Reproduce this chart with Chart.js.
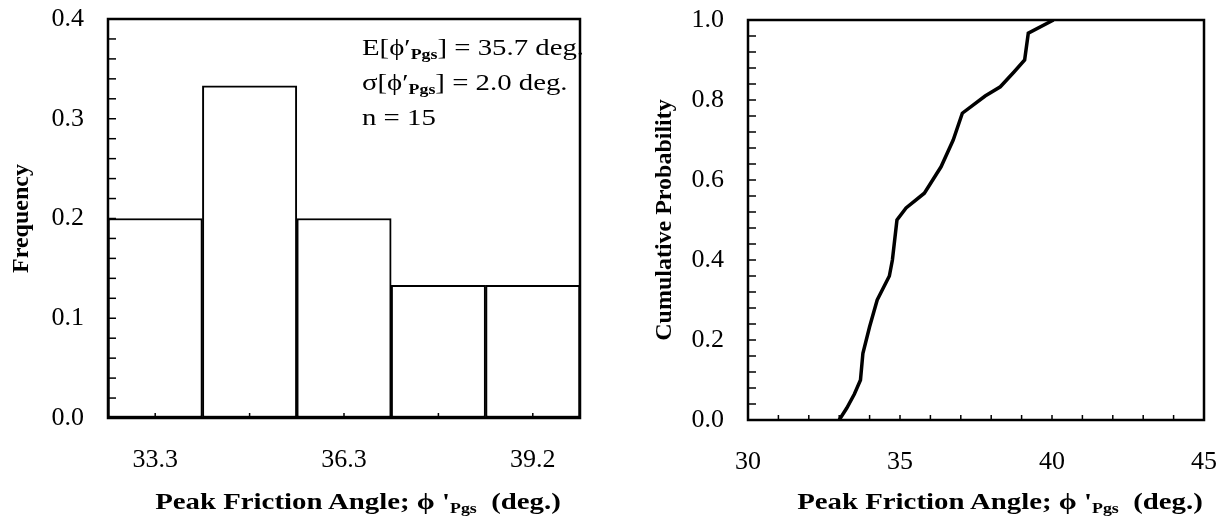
<!DOCTYPE html>
<html>
<head>
<meta charset="utf-8">
<script src="https://cdn.jsdelivr.net/npm/chart.js@4.4.1/dist/chart.umd.min.js"></script>
<style>
  body { margin: 0; background: #fff; }
  #page { position: relative; width: 1222px; height: 520px; overflow: hidden; font-family: "Liberation Serif", "Times New Roman", serif; color: #000; }
  .panel { position: absolute; top: 0; height: 520px; }
  #left-panel { left: 0; width: 600px; }
  #right-panel { left: 600px; width: 622px; }
  .x-title { position: absolute; top: 486px; font-weight: bold; font-size: 24px; line-height: 30px; white-space: nowrap; transform: translateX(-50%) scaleX(1.2); }
  .x-title sub, .stats sub { font-size: 62%; vertical-align: -0.3em; line-height: 0; }
  .stats { position: absolute; left: 362px; top: 30px; font-size: 24px; line-height: 35px; white-space: nowrap; transform: scaleX(1.2); transform-origin: left top; }
</style>
</head>
<body>
<div id="page">
  <div id="left-panel" class="panel">
    <canvas id="hist-chart" width="600" height="520"></canvas>
    <div class="stats">
      E[ϕ′<sub><b>Pgs</b></sub>] = 35.7 deg.<br>
      σ[ϕ′<sub><b>Pgs</b></sub>] = 2.0 deg.<br>
      n = 15
    </div>
    <div class="x-title" style="left: 358px;">Peak Friction Angle; ϕ '<sub>Pgs</sub>&nbsp;&nbsp;(deg.)</div>
  </div>
  <div id="right-panel" class="panel">
    <canvas id="cdf-chart" width="622" height="520"></canvas>
    <div class="x-title" style="left: 400px;">Peak Friction Angle; ϕ '<sub>Pgs</sub>&nbsp;&nbsp;(deg.)</div>
  </div>
</div>
<script>
// histogram bins (deg.) and relative frequency
const binCenters = [33.3, 34.8, 36.3, 37.7, 39.2];
const binLabels = ["33.3", "", "36.3", "", "39.2"];
const frequency = [0.2, 0.333, 0.2, 0.133, 0.133];

// cumulative probability curve
const cdfAngle = [33.0, 33.25, 33.5, 33.7, 33.78, 34.0, 34.25, 34.65, 34.75, 34.9, 35.2, 35.8, 36.35, 36.75, 37.05, 37.8, 38.3, 38.75, 39.1, 39.22, 40.05];
const cdfProb = [0.0, 0.03, 0.065, 0.1, 0.167, 0.233, 0.3, 0.36, 0.4, 0.5, 0.53, 0.567, 0.633, 0.7, 0.767, 0.81, 0.833, 0.87, 0.9, 0.967, 1.0];

const tickFont = { family: "'Liberation Serif', 'Times New Roman', serif", size: 26 };
const titleFont = { family: "'Liberation Serif', 'Times New Roman', serif", size: 24, weight: "bold" };

const isMultiple = (v, step) => Math.abs(v / step - Math.round(v / step)) < 1e-6;

// invisible outer ticks: they only push the labels away from the axis
const hiddenGrid = (len) => ({
  display: true,
  drawOnChartArea: false,
  drawTicks: true,
  tickLength: len,
  tickColor: "rgba(0,0,0,0)",
});

// box around the plot area + small inward tick marks
const frameTicks = {
  id: "frameTicks",
  afterDraw(chart, args, opts) {
    const { ctx, chartArea: a, scales } = chart;
    ctx.save();
    ctx.strokeStyle = "#000";
    ctx.lineWidth = 1.5;
    scales.x.ticks.forEach((t, i) => {
      const px = scales.x.getPixelForTick(i);
      ctx.beginPath();
      ctx.moveTo(px, a.bottom);
      ctx.lineTo(px, a.bottom - opts.xLen);
      ctx.stroke();
    });
    scales.y.ticks.forEach((t, i) => {
      const py = scales.y.getPixelForTick(i);
      ctx.beginPath();
      ctx.moveTo(a.left, py);
      ctx.lineTo(a.left + opts.yLen, py);
      ctx.stroke();
    });
    ctx.lineWidth = 2.5;
    ctx.strokeRect(a.left, a.top, a.right - a.left, a.bottom - a.top);
    ctx.restore();
  },
};

window.onload = function () {
  const histCtx = document.getElementById("hist-chart").getContext("2d");
  new Chart(histCtx, {
    type: "bar",
    data: {
      labels: binCenters,
      datasets: [
        {
          data: frequency,
          backgroundColor: "#fff",
          borderColor: "#000",
          borderWidth: 2,
          borderSkipped: false,
          barPercentage: 1,
          categoryPercentage: 1,
        },
      ],
    },
    plugins: [frameTicks],
    options: {
      responsive: false,
      animation: false,
      layout: { padding: { top: 19, right: 20, left: 0, bottom: 0 } },
      plugins: {
        legend: { display: false },
        tooltip: { enabled: false },
        frameTicks: { xLen: 5, yLen: 8 },
      },
      scales: {
        x: {
          type: "category",
          grid: hiddenGrid(25),
          border: { display: false },
          ticks: {
            color: "#000",
            font: tickFont,
            padding: 2,
            autoSkip: false,
            maxRotation: 0,
            callback: (v, i) => binLabels[i],
          },
          afterFit: (s) => { s.height = 102; },
        },
        y: {
          min: 0,
          max: 0.4,
          grid: hiddenGrid(21),
          border: { display: false },
          ticks: {
            stepSize: 0.02,
            autoSkip: false,
            color: "#000",
            font: tickFont,
            padding: 3,
            callback: (v) => (isMultiple(v, 0.1) ? v.toFixed(1) : ""),
          },
          title: { display: true, text: "Frequency", color: "#000", font: titleFont, padding: { top: 7, bottom: 0 } },
          afterFit: (s) => { s.width = 108; },
        },
      },
    },
  });

  const cdfCtx = document.getElementById("cdf-chart").getContext("2d");
  new Chart(cdfCtx, {
    type: "line",
    data: {
      datasets: [
        {
          data: cdfAngle.map((a, i) => ({ x: a, y: cdfProb[i] })),
          borderColor: "#000",
          borderWidth: 3.5,
          pointRadius: 0,
          tension: 0,
          fill: false,
        },
      ],
    },
    plugins: [frameTicks],
    options: {
      responsive: false,
      animation: false,
      layout: { padding: { top: 20, right: 18, left: 0, bottom: 0 } },
      plugins: {
        legend: { display: false },
        tooltip: { enabled: false },
        frameTicks: { xLen: 5, yLen: 8 },
      },
      scales: {
        x: {
          type: "linear",
          min: 30,
          max: 45,
          grid: hiddenGrid(25),
          border: { display: false },
          ticks: {
            stepSize: 1,
            color: "#000",
            font: tickFont,
            padding: 2,
            autoSkip: false,
            maxRotation: 0,
            callback: (v) => (isMultiple(v, 5) ? String(v) : ""),
          },
          afterFit: (s) => { s.height = 100; },
        },
        y: {
          min: 0,
          max: 1,
          grid: hiddenGrid(21),
          border: { display: false },
          ticks: {
            stepSize: 0.04,
            autoSkip: false,
            color: "#000",
            font: tickFont,
            padding: 3,
            callback: (v) => (isMultiple(v, 0.2) ? v.toFixed(1) : ""),
          },
          title: { display: true, text: "Cumulative Probability", color: "#000", font: titleFont, padding: { top: 50, bottom: 0 } },
          afterFit: (s) => { s.width = 148; },
        },
      },
    },
  });
};
</script>
</body>
</html>
